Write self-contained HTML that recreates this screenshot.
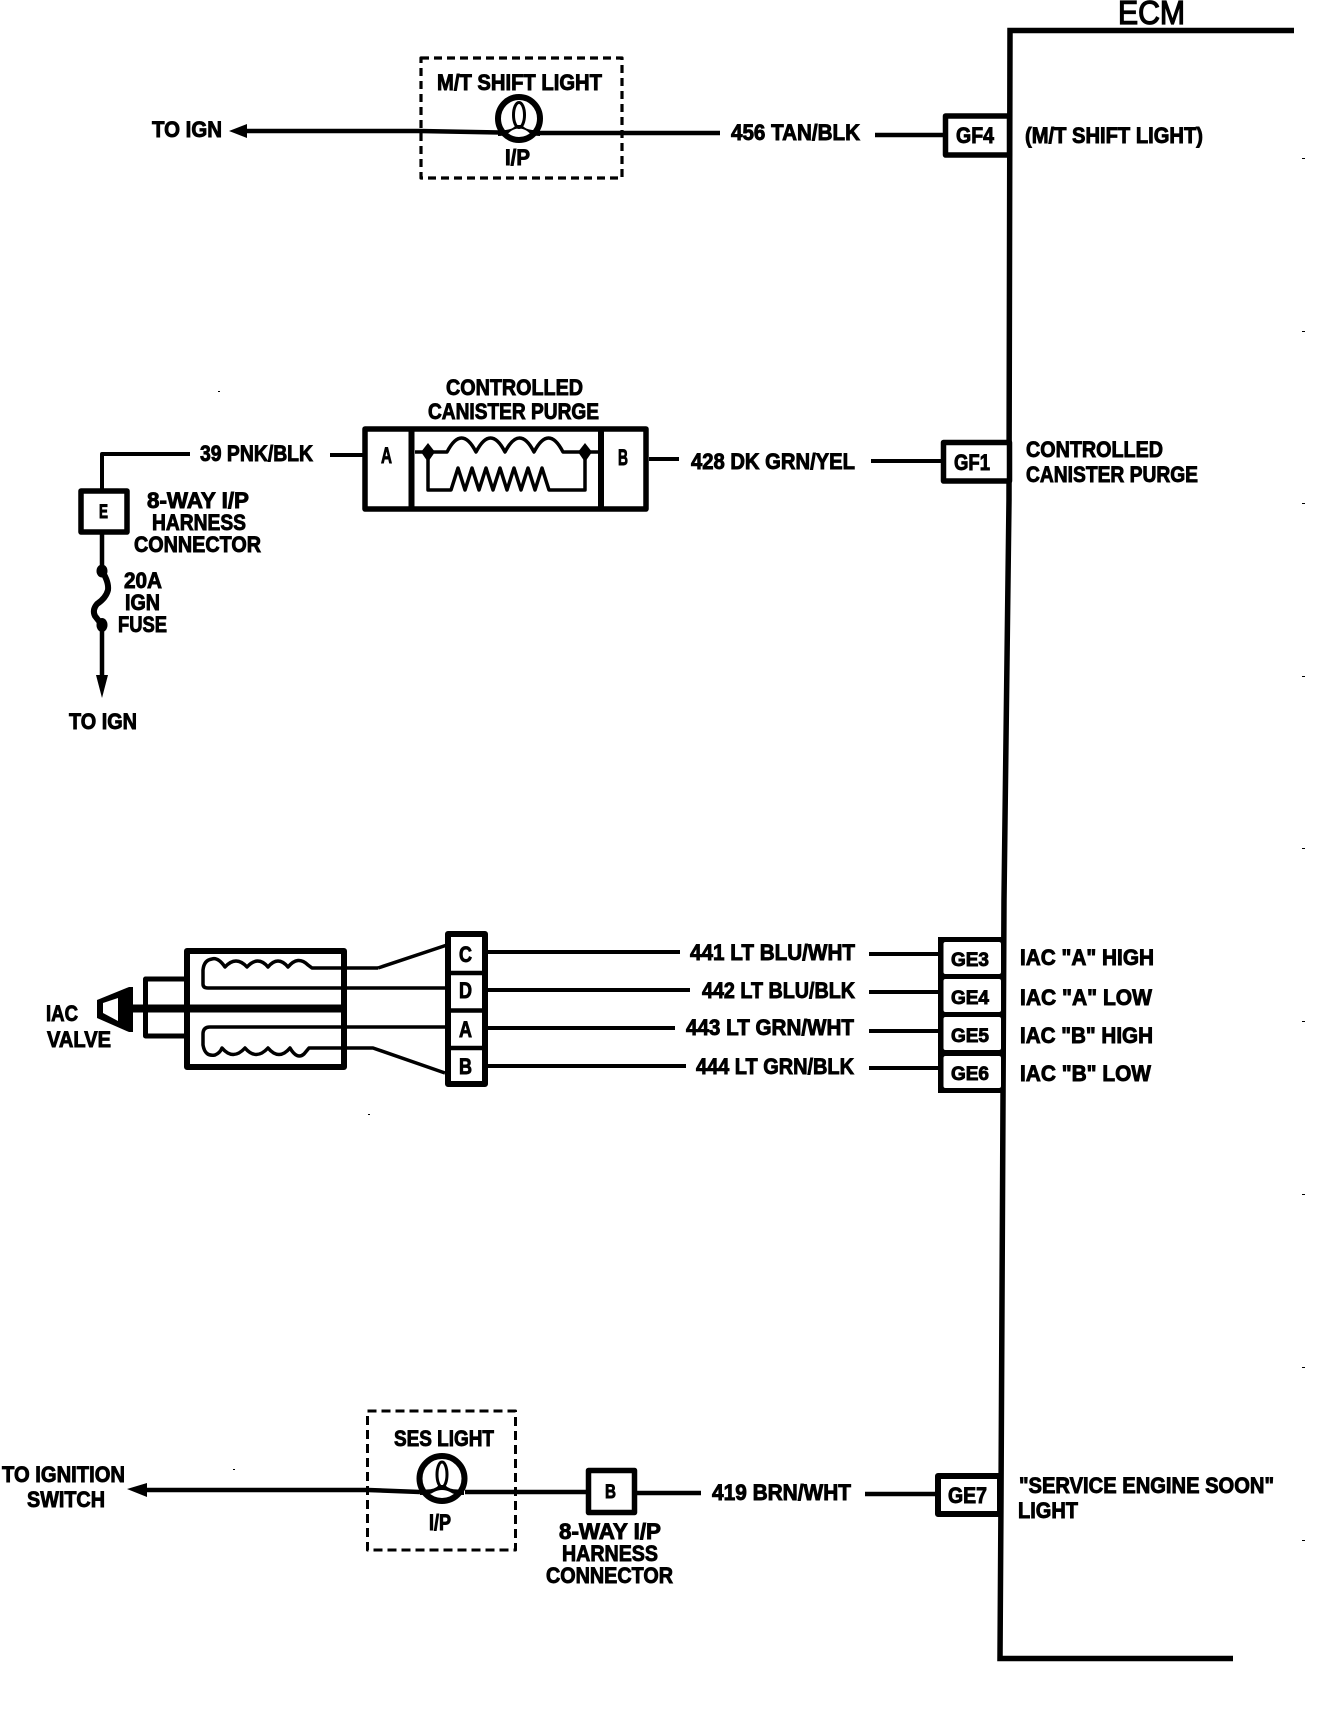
<!DOCTYPE html>
<html lang="en">
<head>
<meta charset="utf-8">
<title>ECM wiring diagram</title>
<style>
html,body{margin:0;padding:0;background:#fff;width:1328px;height:1712px;overflow:hidden}
svg{display:block}
text{font-family:"Liberation Sans",sans-serif;font-weight:700;font-size:22px;fill:#000;stroke:#000;stroke-width:.9}
.l{fill:none;stroke:#000;stroke-linecap:butt;stroke-linejoin:round}
</style>
</head>
<body>
<svg xmlns="http://www.w3.org/2000/svg" width="1328" height="1712" viewBox="0 0 1328 1712">
<rect width="1328" height="1712" fill="#fff"/>

<!-- ECM outline -->
<path class="l" stroke-width="5.500" d="M1294 30.500H1010L1009 500L1004 900L1001 1500L1000 1658.500H1233" style="stroke-linejoin:miter"/>
<text x="1118" y="24" style="font-size:33px;font-weight:400;stroke-width:1.300" textLength="67" lengthAdjust="spacingAndGlyphs">ECM</text>

<!-- Section 1: M/T shift light -->
<rect class="l" x="421" y="58" width="201" height="120" stroke-width="3.200" stroke-dasharray="8 5"/>
<path class="l" stroke-width="4.500" d="M240 131H420L500 132.500M540 133H720M875 135H945"/>
<path d="M229 131L247 124V138Z"/>
<ellipse class="l" cx="519" cy="118.500" rx="21" ry="21.500" stroke-width="6" style="fill:#fff"/>
<ellipse class="l" cx="519" cy="115" rx="5.500" ry="12.500" stroke-width="3"/>
<path d="M498 130Q512 131 516 125L522 125Q526 131 540 130V136Q532 136 527 131Q519 126 511 131Q506 136 498 136Z"/>
<rect class="l" x="945.500" y="116" width="64" height="39" stroke-width="5.500" style="fill:#fff"/>
<text x="152" y="137" textLength="70" lengthAdjust="spacingAndGlyphs">TO IGN</text>
<text x="437" y="90" textLength="165" lengthAdjust="spacingAndGlyphs">M/T SHIFT LIGHT</text>
<text x="505" y="165" textLength="25" lengthAdjust="spacingAndGlyphs">I/P</text>
<text x="731" y="140" textLength="129" lengthAdjust="spacingAndGlyphs">456 TAN/BLK</text>
<text x="956" y="143" textLength="38" lengthAdjust="spacingAndGlyphs">GF4</text>
<text x="1025" y="143" textLength="178" lengthAdjust="spacingAndGlyphs">(M/T SHIFT LIGHT)</text>

<!-- Section 2: canister purge -->
<path class="l" stroke-width="4" d="M190 454H102V490M330 455H363M649 459H679"/>
<path class="l" stroke-width="4" d="M871 461H941"/>
<path class="l" stroke-width="4.500" d="M102 534V571M102 625V678"/>
<path d="M96 675H108L102 698Z"/>
<rect class="l" x="81" y="491" width="46" height="41" stroke-width="5.500" style="fill:#fff"/>
<path class="l" stroke-width="6" d="M102 571Q109 582 108 590Q106 598 97 604Q92 610 95 616L102 625"/>
<ellipse cx="102" cy="571" rx="5.500" ry="6.500"/>
<ellipse cx="102" cy="625" rx="5.500" ry="7"/>
<rect class="l" x="365" y="429" width="281" height="80" stroke-width="5.500"/>
<path class="l" stroke-width="6" d="M411.500 429V509M601 429V509"/>
<path class="l" stroke-width="3.500" d="M415 452H447q14.600 -28 29 0q14.600 -28 29 0q14.600 -28 29 0q14.600 -28 29 0L567 452H598"/>
<path class="l" stroke-width="3.500" d="M428 452V490H451L458 468L465 490L472 468L479 490L486 468L493 490L500 468L507 490L514 468L521 490L528 468L535 490L542 468L549 490H585V452"/>
<path d="M428 443L435 452L428 462L421 452Z"/>
<path d="M585 443L592 452L585 462L578 452Z"/>
<rect class="l" x="943.500" y="442.500" width="66" height="38.500" stroke-width="5.500" style="fill:#fff"/>
<text x="446" y="395" textLength="137" lengthAdjust="spacingAndGlyphs">CONTROLLED</text>
<text x="428" y="419" textLength="171" lengthAdjust="spacingAndGlyphs">CANISTER PURGE</text>
<text x="381" y="463" textLength="11" lengthAdjust="spacingAndGlyphs">A</text>
<text x="618" y="465" textLength="10" lengthAdjust="spacingAndGlyphs">B</text>
<text x="200" y="461" textLength="113" lengthAdjust="spacingAndGlyphs">39 PNK/BLK</text>
<text x="99" y="518" textLength="9" lengthAdjust="spacingAndGlyphs" style="font-size:19px">E</text>
<text x="147" y="508" textLength="102" lengthAdjust="spacingAndGlyphs">8-WAY I/P</text>
<text x="152" y="530" textLength="94" lengthAdjust="spacingAndGlyphs">HARNESS</text>
<text x="134" y="552" textLength="127" lengthAdjust="spacingAndGlyphs">CONNECTOR</text>
<text x="124" y="588" textLength="38" lengthAdjust="spacingAndGlyphs">20A</text>
<text x="125" y="610" textLength="35" lengthAdjust="spacingAndGlyphs">IGN</text>
<text x="118" y="632" textLength="49" lengthAdjust="spacingAndGlyphs">FUSE</text>
<text x="69" y="729" textLength="68" lengthAdjust="spacingAndGlyphs">TO IGN</text>
<text x="691" y="469" textLength="164" lengthAdjust="spacingAndGlyphs">428 DK GRN/YEL</text>
<text x="954" y="470" textLength="36" lengthAdjust="spacingAndGlyphs">GF1</text>
<text x="1026" y="457" textLength="137" lengthAdjust="spacingAndGlyphs">CONTROLLED</text>
<text x="1026" y="482" textLength="172" lengthAdjust="spacingAndGlyphs">CANISTER PURGE</text>

<!-- Section 3: IAC valve -->
<path d="M97 1000L129 987H133V1032H129L97 1018Z"/>
<path d="M103 1003L118 998V1021L103 1013Z" fill="#fff"/>
<path class="l" stroke-width="5" d="M184 979H145.500V1036H184"/>
<path class="l" stroke-width="8" d="M130 1008.500H344"/>
<rect class="l" x="187" y="951" width="157" height="116" stroke-width="6"/>
<path class="l" stroke-width="3.500" d="M378 968H312L308 965Q298 955 288 967Q278 955 268 967Q258 955 247 967Q236 955 225 967Q218 957 212 959Q204 960 203 970V984Q203 988 208 988H447"/>
<path class="l" stroke-width="3.500" d="M378 968L447 945"/>
<path class="l" stroke-width="3.500" d="M445 1027H210Q203 1027 203 1034V1045Q205 1057 215 1055Q220 1053 222 1048Q233 1061 245 1048Q256 1061 268 1048Q279 1061 290 1048Q297 1060 304 1054L309 1048H373L445 1073"/>
<rect class="l" x="448" y="934" width="37" height="150" stroke-width="6" style="fill:#fff"/>
<path class="l" stroke-width="4.500" d="M448 973H485M448 1010.500H485M448 1048H485"/>
<path class="l" stroke-width="4" d="M488 952H680M488 990H690M488 1028H675M488 1066H686M869 954H938M869 992H938M869 1031H938M869 1068H938"/>
<rect x="938" y="937" width="66" height="156"/>
<rect x="943.500" y="942" width="57.500" height="32" rx="2" fill="#fff"/>
<rect x="943.500" y="979" width="57.500" height="33" rx="2" fill="#fff"/>
<rect x="943.500" y="1017" width="57.500" height="33" rx="2" fill="#fff"/>
<rect x="943.500" y="1056" width="57.500" height="32" rx="2" fill="#fff"/>
<text x="46" y="1021" textLength="32" lengthAdjust="spacingAndGlyphs">IAC</text>
<text x="47" y="1047" textLength="64" lengthAdjust="spacingAndGlyphs">VALVE</text>
<text x="459" y="962" textLength="13" lengthAdjust="spacingAndGlyphs">C</text>
<text x="459" y="998" textLength="13" lengthAdjust="spacingAndGlyphs">D</text>
<text x="459" y="1037" textLength="13" lengthAdjust="spacingAndGlyphs">A</text>
<text x="459" y="1074" textLength="13" lengthAdjust="spacingAndGlyphs">B</text>
<text x="690" y="960" textLength="165" lengthAdjust="spacingAndGlyphs">441 LT BLU/WHT</text>
<text x="702" y="998" textLength="153" lengthAdjust="spacingAndGlyphs">442 LT BLU/BLK</text>
<text x="686" y="1035" textLength="168" lengthAdjust="spacingAndGlyphs">443 LT GRN/WHT</text>
<text x="696" y="1074" textLength="158" lengthAdjust="spacingAndGlyphs">444 LT GRN/BLK</text>
<text x="951" y="966" textLength="38" lengthAdjust="spacingAndGlyphs" style="font-size:19px">GE3</text>
<text x="951" y="1004" textLength="38" lengthAdjust="spacingAndGlyphs" style="font-size:19px">GE4</text>
<text x="951" y="1042" textLength="38" lengthAdjust="spacingAndGlyphs" style="font-size:19px">GE5</text>
<text x="951" y="1080" textLength="38" lengthAdjust="spacingAndGlyphs" style="font-size:19px">GE6</text>
<text x="1020" y="965" textLength="134" lengthAdjust="spacingAndGlyphs">IAC "A" HIGH</text>
<text x="1020" y="1005" textLength="132" lengthAdjust="spacingAndGlyphs">IAC "A" LOW</text>
<text x="1020" y="1043" textLength="133" lengthAdjust="spacingAndGlyphs">IAC "B" HIGH</text>
<text x="1020" y="1081" textLength="131" lengthAdjust="spacingAndGlyphs">IAC "B" LOW</text>

<!-- Section 4: SES light -->
<rect class="l" x="367.500" y="1411" width="148" height="139" stroke-width="3" stroke-dasharray="9 5"/>
<path class="l" stroke-width="4.500" d="M140 1490H368L420 1492M465 1492H586M637 1493H701M865 1494H935"/>
<path d="M127 1489L147 1483V1497Z"/>
<ellipse class="l" cx="442" cy="1478.500" rx="22.500" ry="22.500" stroke-width="6" style="fill:#fff"/>
<ellipse class="l" cx="442" cy="1474.500" rx="5" ry="12.500" stroke-width="3"/>
<path d="M420 1489Q434 1491 439 1485H445Q450 1491 464 1489V1495Q454 1495 450 1492Q442 1488 434 1492Q430 1495 420 1495Z"/>
<rect class="l" x="588.500" y="1470.500" width="46" height="42" stroke-width="5.500" style="fill:#fff"/>
<rect class="l" x="938" y="1476" width="62" height="38" stroke-width="6" style="fill:#fff"/>
<text x="2" y="1482" textLength="123" lengthAdjust="spacingAndGlyphs">TO IGNITION</text>
<text x="27" y="1507" textLength="78" lengthAdjust="spacingAndGlyphs">SWITCH</text>
<text x="394" y="1446" textLength="100" lengthAdjust="spacingAndGlyphs">SES LIGHT</text>
<text x="429" y="1530" textLength="22" lengthAdjust="spacingAndGlyphs">I/P</text>
<text x="605" y="1498" textLength="11" lengthAdjust="spacingAndGlyphs" style="font-size:19px">B</text>
<text x="559" y="1539" textLength="102" lengthAdjust="spacingAndGlyphs">8-WAY I/P</text>
<text x="562" y="1561" textLength="96" lengthAdjust="spacingAndGlyphs">HARNESS</text>
<text x="546" y="1583" textLength="127" lengthAdjust="spacingAndGlyphs">CONNECTOR</text>
<text x="712" y="1500" textLength="139" lengthAdjust="spacingAndGlyphs">419 BRN/WHT</text>
<text x="948" y="1503" textLength="39" lengthAdjust="spacingAndGlyphs">GE7</text>
<text x="1019" y="1493" textLength="255" lengthAdjust="spacingAndGlyphs">"SERVICE ENGINE SOON"</text>
<text x="1018" y="1518" textLength="60" lengthAdjust="spacingAndGlyphs">LIGHT</text>

<!-- Scan specks -->
<path class="l" stroke-width="1" d="M1302 158.500h3M1302 331.500h3M1302 503.500h3M1302 676.500h3M1302 848.500h3M1302 1021.500h3M1302 1194.500h3M1302 1367.500h3M1302 1540.500h3M218 391.500h2M368 1114.500h2M233 1469.500h2"/>
</svg>
</body>
</html>
